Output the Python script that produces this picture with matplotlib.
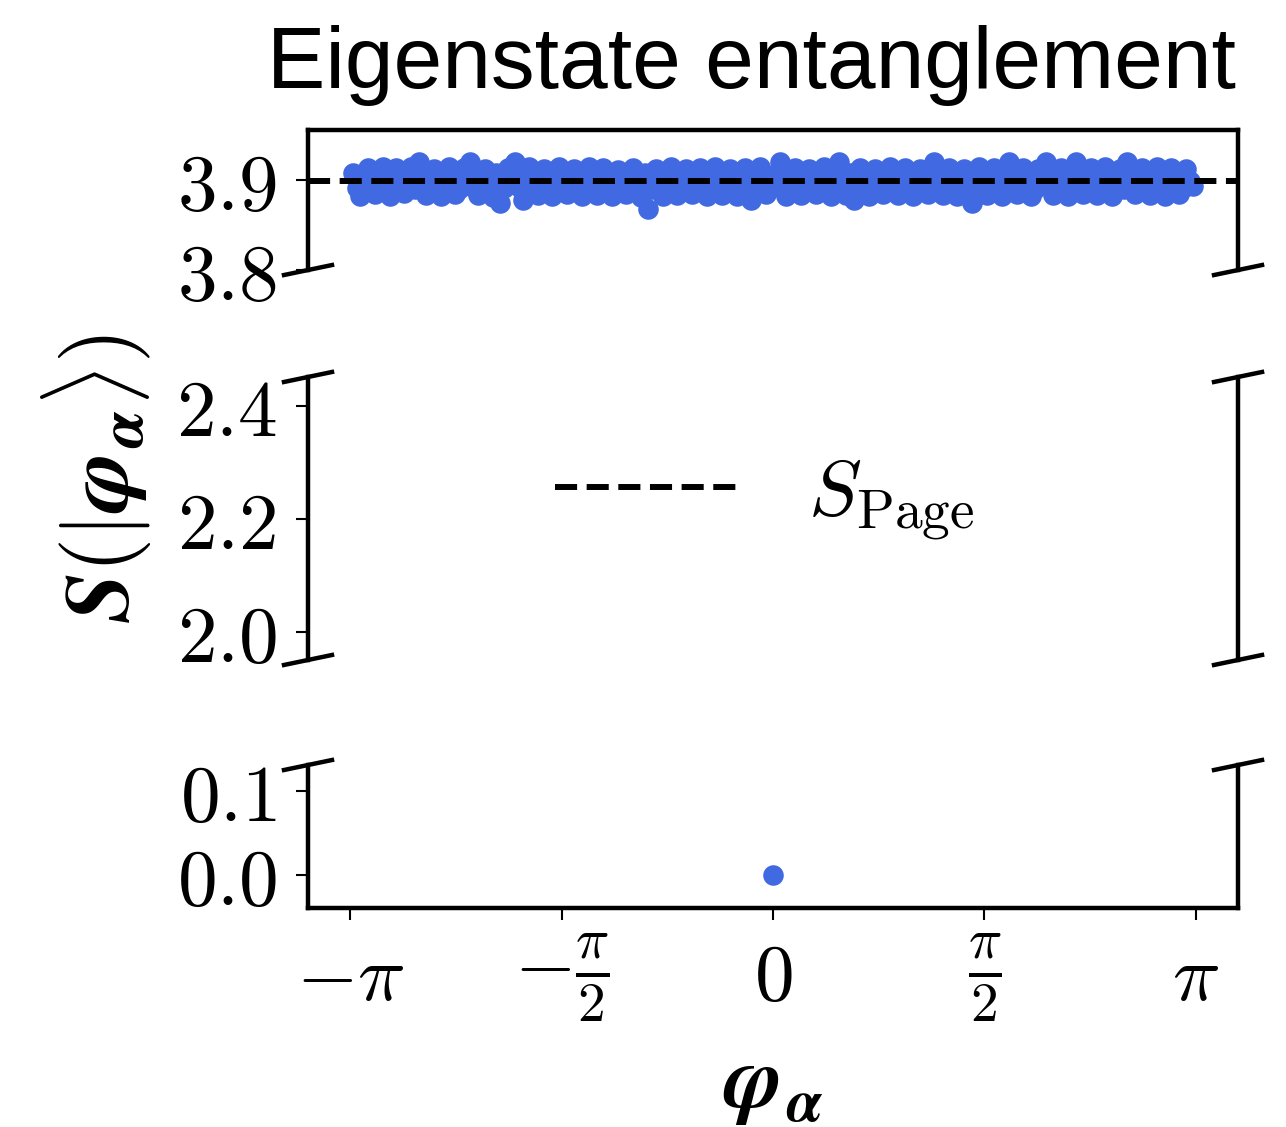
import numpy as np
import matplotlib
matplotlib.use('Agg')
import matplotlib.pyplot as plt

plt.rcParams['mathtext.fontset'] = 'cm'

# quasienergies and half-chain entanglement of the eigenstates (outer part of the band)
phi = [-3.12, -3.07, -3.01, -2.96, -2.90, -2.85, -2.80, -2.74, -2.69, -2.63,
       -2.58, -2.52, -2.47, -2.41, -2.36, -2.30, -2.25, -2.19, -2.14, -2.08,
       -2.03, -1.97, -1.92, -1.86, -1.81, -1.75, -1.70, -1.64, -1.59, -1.53,
       -1.48, -1.42, -1.37, -1.31, -1.26, -1.20, -1.15, -1.09, -1.04, -0.98,
       -0.93, -0.87, -0.82, -0.76, -0.71, -0.65, -0.60, -0.54, -0.49, -0.43,
       -0.38, -0.32, -0.27, -0.21, -0.16, -0.10, -0.05, 0.00, 0.05, 0.10,
       0.16, 0.21, 0.27, 0.32, 0.38, 0.43, 0.49, 0.54, 0.60, 0.65,
       0.71, 0.76, 0.82, 0.87, 0.93, 0.98, 1.04, 1.09, 1.15, 1.20,
       1.26, 1.31, 1.37, 1.42, 1.48, 1.53, 1.59, 1.64, 1.70, 1.75,
       1.81, 1.86, 1.92, 1.97, 2.03, 2.08, 2.14, 2.19, 2.25, 2.30,
       2.36, 2.41, 2.47, 2.52, 2.58, 2.63, 2.69, 2.74, 2.80, 2.85,
       2.91, 2.96, 3.02, 3.07, 3.12]
S = [3.907, 3.882, 3.913, 3.884, 3.914, 3.882, 3.913, 3.885, 3.914, 3.920,
     3.883, 3.912, 3.882, 3.914, 3.884, 3.913, 3.919, 3.883, 3.912, 3.881,
     3.874, 3.913, 3.920, 3.878, 3.914, 3.883, 3.912, 3.882, 3.914, 3.884,
     3.912, 3.882, 3.914, 3.883, 3.913, 3.882, 3.911, 3.884, 3.913, 3.881,
     3.868, 3.912, 3.882, 3.914, 3.883, 3.912, 3.884, 3.913, 3.882, 3.914,
     3.883, 3.912, 3.882, 3.913, 3.877, 3.914, 3.884, 0.000, 3.919, 3.882,
     3.913, 3.883, 3.912, 3.884, 3.914, 3.882, 3.920, 3.883, 3.878, 3.913,
     3.882, 3.912, 3.884, 3.914, 3.883, 3.913, 3.882, 3.912, 3.884, 3.920,
     3.883, 3.913, 3.882, 3.912, 3.874, 3.914, 3.883, 3.913, 3.882, 3.919,
     3.884, 3.913, 3.882, 3.912, 3.920, 3.883, 3.913, 3.882, 3.920, 3.884,
     3.913, 3.883, 3.914, 3.882, 3.912, 3.919, 3.884, 3.913, 3.883, 3.914,
     3.882, 3.913, 3.884, 3.912, 3.893]

# eigenstates filling the inside of the band
phi_b = [-3.095, -3.04, -2.985, -2.93, -2.875, -2.825, -2.77, -2.715, -2.66, -2.605,
         -2.55, -2.495, -2.44, -2.385, -2.33, -2.275, -2.22, -2.165, -2.11, -2.055,
         -2.00, -1.945, -1.89, -1.835, -1.78, -1.725, -1.67, -1.615, -1.56, -1.505,
         -1.45, -1.395, -1.34, -1.285, -1.23, -1.175, -1.12, -1.065, -1.01, -0.955,
         -0.90, -0.845, -0.79, -0.735, -0.68, -0.625, -0.57, -0.515, -0.46, -0.405,
         -0.35, -0.295, -0.24, -0.185, -0.13, -0.075, -0.025, 0.025, 0.075, 0.13,
         0.185, 0.24, 0.295, 0.35, 0.405, 0.46, 0.515, 0.57, 0.625, 0.68,
         0.735, 0.79, 0.845, 0.90, 0.955, 1.01, 1.065, 1.12, 1.175, 1.23,
         1.285, 1.34, 1.395, 1.45, 1.505, 1.56, 1.615, 1.67, 1.725, 1.78,
         1.835, 1.89, 1.945, 2.00, 2.055, 2.11, 2.165, 2.22, 2.275, 2.33,
         2.385, 2.44, 2.495, 2.55, 2.605, 2.66, 2.715, 2.77, 2.825, 2.88,
         2.935, 2.99, 3.045, 3.10]
S_b = [3.891, 3.906, 3.890, 3.907, 3.892, 3.906, 3.891, 3.908, 3.890, 3.906,
       3.892, 3.907, 3.891, 3.906, 3.890, 3.908, 3.891, 3.906, 3.889, 3.907,
       3.891, 3.906, 3.892, 3.907, 3.890, 3.906, 3.891, 3.908, 3.890, 3.906,
       3.892, 3.907, 3.891, 3.906, 3.890, 3.907, 3.891, 3.906, 3.889, 3.907,
       3.890, 3.906, 3.892, 3.907, 3.891, 3.906, 3.890, 3.908, 3.891, 3.906,
       3.892, 3.907, 3.890, 3.906, 3.891, 3.907, 3.892, 3.906, 3.890, 3.908,
       3.891, 3.906, 3.890, 3.907, 3.892, 3.906, 3.891, 3.907, 3.890, 3.906,
       3.891, 3.908, 3.892, 3.906, 3.890, 3.907, 3.891, 3.906, 3.892, 3.907,
       3.890, 3.906, 3.891, 3.908, 3.889, 3.906, 3.892, 3.907, 3.890, 3.906,
       3.891, 3.907, 3.890, 3.906, 3.892, 3.908, 3.891, 3.906, 3.890, 3.907,
       3.891, 3.906, 3.892, 3.907, 3.890, 3.906, 3.891, 3.908, 3.890, 3.906,
       3.892, 3.907, 3.891, 3.898]
S_page = 3.899

fig = plt.figure(figsize=(12.86, 11.27), dpi=100)
ax_top = fig.add_axes([0.2395, 0.7604, 0.7232, 0.1243])
ax_mid = fig.add_axes([0.2395, 0.4144, 0.7232, 0.2511])
ax_bot = fig.add_axes([0.2395, 0.1943, 0.7232, 0.1269])
axes = [ax_top, ax_mid, ax_bot]

for ax in axes:
    ax.plot(phi, S, 'o', color='royalblue', ms=14.8, mew=0, zorder=2)
    ax.plot(phi_b, S_b, 'o', color='royalblue', ms=14.8, mew=0, zorder=2)
    ax.axhline(S_page, color='k', ls='--', lw=4.3, zorder=3,
               label=r'$S_{\mathrm{Page}}$')
    ax.set_xlim(-1.1 * np.pi, 1.1 * np.pi)
    for sp in ax.spines.values():
        sp.set_linewidth(3.2)
    ax.tick_params(axis='y', direction='out', length=8.6, width=1.5, pad=14)
    ax.tick_params(axis='x', direction='out', length=8.6, width=1.5)

ax_top.set_ylim(3.8, 3.955)
ax_mid.set_ylim(1.95, 2.451)
ax_bot.set_ylim(-0.039, 0.131)

ax_top.spines['bottom'].set_visible(False)
ax_mid.spines['bottom'].set_visible(False)
ax_mid.spines['top'].set_visible(False)
ax_bot.spines['top'].set_visible(False)
for ax in [ax_top, ax_mid]:
    ax.set_xticks([])

ax_top.set_yticks([3.8, 3.9], [r'$3.8$', r'$3.9$'], fontsize=57)
ax_mid.set_yticks([2.0, 2.2, 2.4], [r'$2.0$', r'$2.2$', r'$2.4$'], fontsize=57)
ax_bot.set_yticks([0.0, 0.1], [r'$0.0$', r'$0.1$'], fontsize=57)
ax_bot.set_xticks([-np.pi, -np.pi / 2, 0, np.pi / 2, np.pi],
                  [r'$-\pi$', r'$-\frac{\pi}{2}$', r'$0$', r'$\frac{\pi}{2}$', r'$\pi$'],
                  fontsize=57)
ax_bot.tick_params(axis='x', pad=42)
for lab in ax_bot.get_xticklabels():
    lab.set_va('center')

# break marks
def breaks(ax, where):
    h = ax.get_position().height * fig.bbox.height
    w = ax.get_position().width * fig.bbox.width
    dx, dy = 24 / w, 5 / h
    y0 = 0 if where == 'bottom' else 1
    for x0 in (0, 1):
        ax.plot([x0 - dx, x0 + dx], [y0 - dy, y0 + dy], color='k', lw=3.2,
                transform=ax.transAxes, clip_on=False)

breaks(ax_top, 'bottom')
breaks(ax_mid, 'top')
breaks(ax_mid, 'bottom')
breaks(ax_bot, 'top')

ax_mid.legend(loc='center', bbox_to_anchor=(0.491, 0.57), frameon=False, fontsize=57,
              handlelength=2.3, handletextpad=0.9)

fig.text(0.075, 0.575,
         r'$\mathbfit{S}\mathbf{(}|\mathbfit{\varphi}_{\mathbfit{\alpha}}\rangle\mathbf{)}$',
         rotation=90, ha='center', va='center', fontsize=65)
ax_bot.set_xlabel(r'$\mathbfit{\varphi}_{\mathbfit{\alpha}}$', fontsize=63, labelpad=13)
fig.text(0.584, 0.922, 'Eigenstate entanglement', family='Liberation Sans',
         fontsize=63, ha='center', va='baseline')

fig.savefig('out.png', dpi=100)
